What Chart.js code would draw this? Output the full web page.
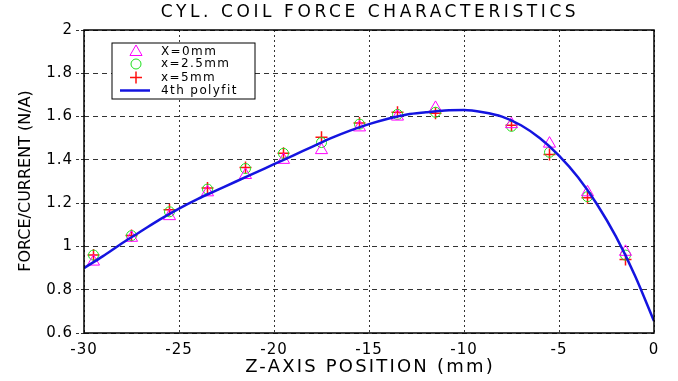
<!DOCTYPE html>
<html>
<head>
  <meta charset="UTF-8" />
  <title>CYL. COIL FORCE CHARACTERISTICS</title>
  <style>
    html, body { margin: 0; padding: 0; background: #ffffff; }
    #wrap { width: 678px; height: 381px; position: relative; }
  </style>
  <script src="https://cdn.jsdelivr.net/npm/chart.js@4/dist/chart.umd.min.js"></script>
</head>
<body>
  <div id="wrap"><canvas id="forceChart" width="678" height="381"></canvas></div>

  <script>
    // measured coil force per amp, three radial offsets
    const zPos = [-29.5, -27.5, -25.5, -23.5, -21.5, -19.5, -17.5, -15.5, -13.5, -11.5, -7.5, -5.5, -3.5, -1.5];
    const forceX0 = [0.93, 1.04, 1.14, 1.25, 1.33, 1.40, 1.445, 1.55, 1.60, 1.64, 1.565, 1.475, 1.25, 0.975];
    const forceX25 = [0.96, 1.05, 1.16, 1.265, 1.36, 1.43, 1.48, 1.565, 1.61, 1.62, 1.555, 1.435, 1.23, 0.96];
    const forceX5 = [0.96, 1.05, 1.17, 1.27, 1.365, 1.43, 1.505, 1.57, 1.62, 1.615, 1.56, 1.425, 1.225, 0.94];

    // 4th order polyfit curve
    const fitZ = [-30, -29, -28, -27, -26, -25, -24, -23, -22, -21, -20, -19, -18, -17, -16, -15,
                  -14, -13, -12, -11, -10, -9, -8, -7, -6, -5, -4, -3, -2, -1, 0];
    const fitF = [0.90, 0.955, 1.015, 1.07, 1.125, 1.175, 1.22, 1.26, 1.30, 1.34, 1.38, 1.42, 1.46, 1.50, 1.535, 1.565,
                  1.59, 1.61, 1.62, 1.628, 1.63, 1.62, 1.60, 1.56, 1.50, 1.42, 1.32, 1.195, 1.045, 0.865, 0.655];

    const xTicks = [-30, -25, -20, -15, -10, -5, 0];
    const yTicks = [0.6, 0.8, 1, 1.2, 1.4, 1.6, 1.8, 2];

    const legendLabels = ['X=0mm', 'x=2.5mm', 'x=5mm', '4th polyfit'];

    const pts = (xs, ys) => xs.map((x, i) => ({ x: x, y: ys[i] }));

    const FONT = '"DejaVu Sans", sans-serif';

    // title, axis titles, plot box and boxed legend
    const decorPlugin = {
      id: 'decor',
      beforeDraw(chart) {
        chart.ctx.letterSpacing = '1px';
      },
      afterDraw(chart) {
        const ctx = chart.ctx;
        const a = chart.chartArea;
        ctx.save();

        // plot box
        ctx.strokeStyle = '#000';
        ctx.lineWidth = 1.5;
        ctx.setLineDash([]);
        ctx.strokeRect(a.left, a.top, a.right - a.left, a.bottom - a.top);

        ctx.fillStyle = '#000';
        ctx.textBaseline = 'middle';
        ctx.textAlign = 'center';

        ctx.font = '17px ' + FONT;
        ctx.letterSpacing = '3.6px';
        ctx.fillText('CYL. COIL FORCE CHARACTERISTICS', 370, 13);

        ctx.font = '18px ' + FONT;
        ctx.letterSpacing = '2.2px';
        ctx.fillText('Z-AXIS POSITION (mm)', 370, 367);

        ctx.save();
        ctx.translate(26, 181);
        ctx.rotate(-Math.PI / 2);
        ctx.font = '16px ' + FONT;
        ctx.letterSpacing = '0px';
        ctx.fillText('FORCE/CURRENT (N/A)', 0, 0);
        ctx.restore();

        // legend
        const bx = 112, by = 43, bw = 143, bh = 56;
        ctx.fillStyle = '#fff';
        ctx.fillRect(bx, by, bw, bh);
        ctx.strokeStyle = '#000';
        ctx.lineWidth = 1;
        ctx.strokeRect(bx, by, bw, bh);

        ctx.font = '12px ' + FONT;
        ctx.letterSpacing = '1.4px';
        ctx.textAlign = 'left';
        const rowY = [52, 64, 77.5, 90.5];
        chart.data.datasets.forEach((ds, i) => {
          const y = rowY[i];
          if (ds.showLine) {
            ctx.strokeStyle = ds.borderColor;
            ctx.lineWidth = ds.borderWidth;
            ctx.beginPath();
            ctx.moveTo(120, y);
            ctx.lineTo(150, y);
            ctx.stroke();
          } else {
            ctx.strokeStyle = ds.borderColor;
            ctx.fillStyle = 'rgba(0,0,0,0)';
            ctx.lineWidth = ds.pointBorderWidth;
            Chart.helpers.drawPoint(ctx, {
              pointStyle: ds.pointStyle,
              radius: ds.pointRadius,
              borderWidth: ds.pointBorderWidth,
              rotation: 0
            }, 136, y);
          }
          ctx.fillStyle = '#000';
          ctx.fillText(legendLabels[i], 161, y);
        });

        ctx.restore();
      }
    };

    const ctx = document.getElementById('forceChart').getContext('2d');
    new Chart(ctx, {
      type: 'scatter',
      data: {
        datasets: [
          {
            label: legendLabels[0],
            data: pts(zPos, forceX0),
            pointStyle: 'triangle',
            pointRadius: 7,
            pointBorderWidth: 1,
            borderColor: '#ff00ff',
            backgroundColor: 'rgba(0,0,0,0)'
          },
          {
            label: legendLabels[1],
            data: pts(zPos, forceX25),
            pointStyle: 'circle',
            pointRadius: 5,
            pointBorderWidth: 1,
            borderColor: '#1ee01e',
            backgroundColor: 'rgba(0,0,0,0)'
          },
          {
            label: legendLabels[2],
            data: pts(zPos, forceX5),
            pointStyle: 'cross',
            pointRadius: 6,
            pointBorderWidth: 1.5,
            borderColor: '#ff1010',
            backgroundColor: 'rgba(0,0,0,0)'
          },
          {
            label: legendLabels[3],
            data: pts(fitZ, fitF),
            showLine: true,
            pointRadius: 0,
            borderWidth: 2.5,
            borderColor: '#1414e0',
            cubicInterpolationMode: 'monotone',
            order: -1
          }
        ]
      },
      options: {
        responsive: false,
        animation: false,
        layout: { padding: { top: 30, right: 24, left: 0, bottom: 0 } },
        plugins: {
          legend: { display: false },
          tooltip: { enabled: false },
          title: { display: false }
        },
        scales: {
          x: {
            type: 'linear',
            min: -30,
            max: 0,
            afterFit(scale) { scale.height = 48; },
            afterBuildTicks(scale) { scale.ticks = xTicks.map(v => ({ value: v })); },
            grid: {
              color: '#333',
              lineWidth: 1,
              drawTicks: false
            },
            border: { display: false, dash: [2, 3] },
            ticks: {
              padding: 8,
              color: '#000',
              font: { family: FONT, size: 15 },
              callback: v => String(v)
            }
          },
          y: {
            min: 0.6,
            max: 2,
            afterFit(scale) { scale.width = 84; },
            afterBuildTicks(scale) { scale.ticks = yTicks.map(v => ({ value: v })); },
            grid: {
              color: '#333',
              lineWidth: 1,
              drawTicks: true,
              tickLength: 8,
              tickBorderDash: [3, 2],
              tickColor: '#333'
            },
            border: { display: false, dash: [5, 4] },
            ticks: {
              padding: 3,
              color: '#000',
              font: { family: FONT, size: 15 },
              callback: v => String(Math.round(v * 10) / 10)
            }
          }
        }
      },
      plugins: [decorPlugin]
    });
  </script>
</body>
</html>
